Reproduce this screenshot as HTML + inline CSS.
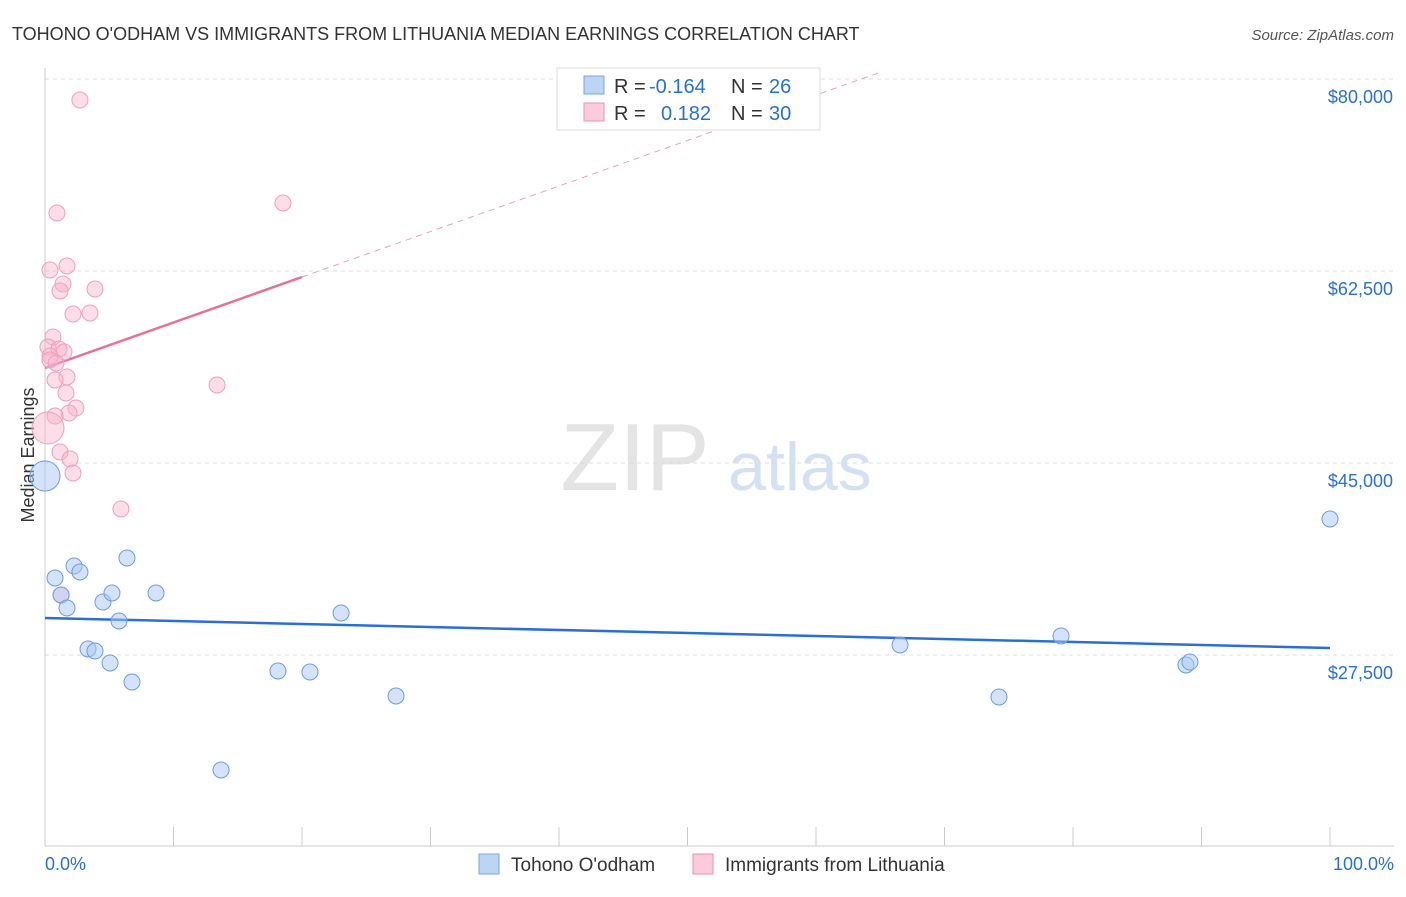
<!DOCTYPE html>
<html><head><meta charset="utf-8">
<style>
body{margin:0;background:#fff;font-family:"Liberation Sans",sans-serif;}
svg text{font-family:"Liberation Sans",sans-serif;}
</style></head>
<body>
<svg id="chart" width="1406" height="892" xmlns="http://www.w3.org/2000/svg">
<text x="12" y="40" font-size="18" fill="#333">TOHONO O'ODHAM VS IMMIGRANTS FROM LITHUANIA MEDIAN EARNINGS CORRELATION CHART</text>
<text x="1394" y="40" font-size="15" fill="#555" font-style="italic" text-anchor="end">Source: ZipAtlas.com</text>
<text x="34" y="455" font-size="18" fill="#333" text-anchor="middle" transform="rotate(-90 34 455)">Median Earnings</text>
<g>
<text x="635" y="490" font-size="96" fill="#e4e4e4" text-anchor="middle" font-family="Liberation Serif">ZIP</text>
<text x="800" y="490" font-size="68" fill="#d3e1f3" text-anchor="middle">atlas</text>
</g>
<g id="grid"></g>
<g id="axes"></g>
<g id="trends"></g>
<g id="points"></g>
<g>
<rect x="557" y="68" width="263" height="62" fill="#fff" stroke="#ddd"/>
<rect x="584" y="76" width="20" height="18" fill="#bcd5f5" stroke="#7aa5e0"/>
<text x="614" y="93" font-size="20" fill="#333">R = </text><text x="649" y="93" font-size="20" fill="#2a6fd6">-0.164</text>
<text x="731" y="93" font-size="20" fill="#333">N = </text><text x="769" y="93" font-size="20" fill="#2a6fd6">26</text>
<rect x="584" y="103" width="20" height="18" fill="#fbcadb" stroke="#ec93b2"/>
<text x="614" y="120" font-size="20" fill="#333">R = </text><text x="661" y="120" font-size="20" fill="#2a6fd6">0.182</text>
<text x="731" y="120" font-size="20" fill="#333">N = </text><text x="769" y="120" font-size="20" fill="#2a6fd6">30</text>
</g>
<g>
<rect x="479" y="854" width="20" height="20" fill="#bcd5f5" stroke="#7aa5e0"/>
<text x="511" y="871" font-size="19" fill="#333">Tohono O'odham</text>
<rect x="693" y="854" width="20" height="20" fill="#fbcadb" stroke="#ec93b2"/>
<text x="725" y="871" font-size="19" fill="#333">Immigrants from Lithuania</text>
</g>
<text x="45" y="870" font-size="18" fill="#2a6fd6">0.0%</text>
<text x="1394" y="870" font-size="18" fill="#2a6fd6" text-anchor="end">100.0%</text>
</svg>
<script>
const yTicks=[80000,62500,45000,27500];
const yTickLabels=["$80,000","$62,500","$45,000","$27,500"];
const xTicks=[0,10,20,30,40,50,60,70,80,90,100];
const blueX=[0,0.78,2.26,2.72,1.25,1.71,4.51,5.21,5.76,6.38,8.64,3.35,3.89,5.06,6.77,13.7,18.13,20.62,23.04,27.32,66.54,74.24,79.07,88.79,89.1,100];
const blueY=[43815,34518,35612,35065,32969,31784,32331,33151,30599,36341,33151,28047,27864,26771,25039,17018,26042,25951,31328,23763,28411,23672,29232,26588,26861,39896];
const pinkX=[2.72,0.93,18.52,0.39,1.71,1.4,1.17,3.89,2.18,3.5,0.62,0.23,1.09,1.48,0.39,1.71,0.78,1.63,13.39,2.41,1.87,0.78,0.23,1.17,1.95,2.18,5.91,1.25,0.39,0.86];
const pinkY=[78086,67786,68698,62591,62956,61315,60677,60859,58581,58672,56484,55573,55391,55117,54753,52838,52565,51380,52109,50013,49557,49284,48190,46003,45365,44088,40807,32969,54388,54115];
const blueTrend=[30872,28138];
const pinkTrend=[53659,61953];
const NS="http://www.w3.org/2000/svg";
const xs=v=>45+v/100*1285;
const ys=v=>79+(80000-v)/17500*192;
function mk(tag,attrs,parent){const e=document.createElementNS(NS,tag);for(const k in attrs)e.setAttribute(k,attrs[k]);document.getElementById(parent).appendChild(e);return e;}
yTicks.forEach((t,i)=>{
 const l=mk('line',{x1:45,x2:1394,y1:ys(t),y2:ys(t),stroke:'#ddd','stroke-dasharray':'4,4'},'grid');
 
 
 const tx=mk('text',{x:1393,y:ys(t)+24,'font-size':18,fill:'#2a6fd6','text-anchor':'end'},'grid');
 tx.textContent=yTickLabels[i];
 
 
});
const ax=mk('line',{x1:45,x2:45,y1:68,y2:846,stroke:'#ccc'},'axes');


const bx=mk('line',{x1:45,x2:1394,y1:846,y2:846,stroke:'#ccc'},'axes');


xTicks.forEach(t=>{
 const l=mk('line',{x1:xs(t),x2:xs(t),y1:827,y2:846,stroke:'#ccc'},'axes');
 
 
});
// trends
const bt=mk('line',{x1:xs(0),y1:ys(blueTrend[0]),x2:xs(100),y2:ys(blueTrend[1]),stroke:'#2a6fd6','stroke-width':2.5},'trends');


const slope=(pinkTrend[1]-pinkTrend[0])/20;
const xEnd=(80600-pinkTrend[0])/slope;
const pd=mk('line',{x1:xs(20),y1:ys(pinkTrend[1]),x2:xs(xEnd),y2:ys(pinkTrend[0]+slope*xEnd),stroke:'#eaa0bb','stroke-width':1,'stroke-dasharray':'6,5'},'trends');


const pt=mk('line',{x1:xs(0),y1:ys(pinkTrend[0]),x2:xs(20),y2:ys(pinkTrend[1]),stroke:'#e8709a','stroke-width':2.5},'trends');


pinkX.forEach((x,i)=>{
 const c=mk('circle',{cx:xs(x),cy:ys(pinkY[i]),r:i==22?16:8,fill:'rgba(248,180,205,0.45)',stroke:'#eea0bc','stroke-width':1},'points');
 
 
});
blueX.forEach((x,i)=>{
 const c=mk('circle',{cx:xs(x),cy:ys(blueY[i]),r:i==0?15:8,fill:'rgba(170,200,245,0.5)',stroke:'#6d9de0','stroke-width':1},'points');
 
 
});
</script>
</body></html>
